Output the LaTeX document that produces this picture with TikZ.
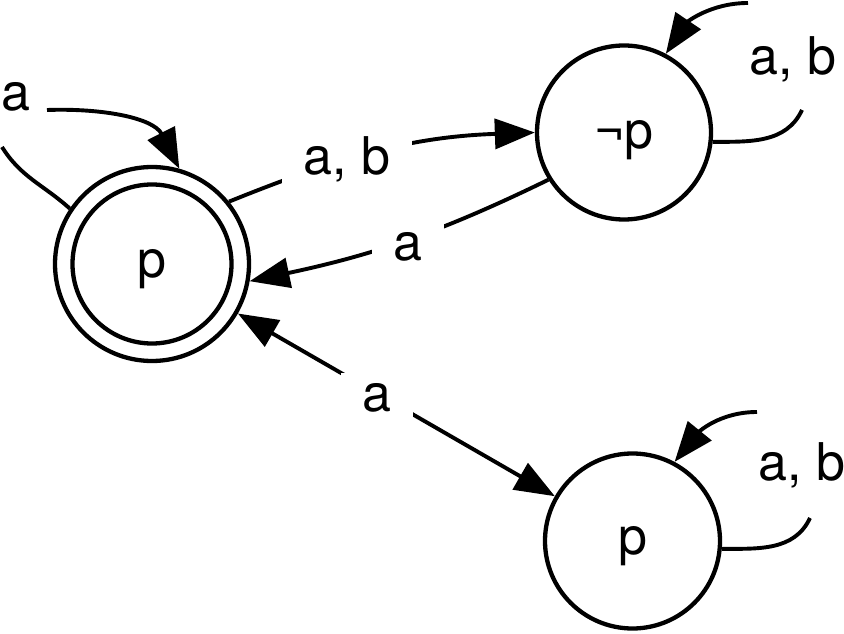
\documentclass[tikz,border=0pt]{standalone}
\usepackage{fontspec}
\setmainfont{TeX Gyre Heros}
\usetikzlibrary{arrows.meta}
\tikzset{bigtip/.tip={Triangle[length=40pt,width=30pt]}}
\begin{document}
\begin{tikzpicture}[x=1pt,y=1pt,
  font=\fontsize{52}{62}\selectfont,
  state/.style={circle,draw,line width=4.3pt,inner sep=0pt},
  conn/.style={line width=3.9pt,-bigtip},
  cut/.style={fill=white,inner xsep=22pt,inner ysep=10pt,anchor=base}]
\useasboundingbox (0,0) rectangle (844,633);
% states
\node[state,minimum size=194pt] (P) at (152,369) {\raisebox{-14pt}[0pt][0pt]{p}};
\node[state,minimum size=159pt] (Pin) at (P.center) {};
\node[state,minimum size=174pt] (NP) at (624,500.5) {\raisebox{-16pt}[0pt][0pt]{¬p}};
\node[state,minimum size=175pt] (BP) at (632.5,92) {\raisebox{-13pt}[0pt][0pt]{p}};
% P -> NP
\draw[conn] (P.39) to[out=22,in=182] (NP.180);
\node[cut] (l1) at (347,458) {a, b};
% NP -> P
\draw[conn] (NP.212) to[out=206,in=12] (P.-10);
\node[cut] (l2) at (408,372) {a};
% P <-> BP
\draw[conn,bigtip-bigtip] (P) -- (BP);
\node[cut] (l3) at (377,222) {a};
% loop on P
\coordinate (la1) at (2,486);
\coordinate (la2) at (47,523);
\draw[conn] (P.146) to[out=138,in=-58] (la1) (la2) to[out=2,in=117] (P.74);
\node[anchor=base west] (l4) at (-2,522) {a};
% loop on NP
\coordinate (lb1) at (802,523);
\coordinate (lb2) at (748,630);
\draw[conn] (NP.-6) to[out=0,in=-115] (lb1) (lb2) to[out=180,in=56] (NP.62);
\node[anchor=base] (l5) at (793,558) {a, b};
% loop on BP
\coordinate (lc1) at (810,115);
\coordinate (lc2) at (757,221);
\draw[conn] (BP.-5) to[out=0,in=-115] (lc1) (lc2) to[out=180,in=51] (BP.62);
\node[anchor=base] (l6) at (802,153) {a, b};
\end{tikzpicture}
\end{document}
